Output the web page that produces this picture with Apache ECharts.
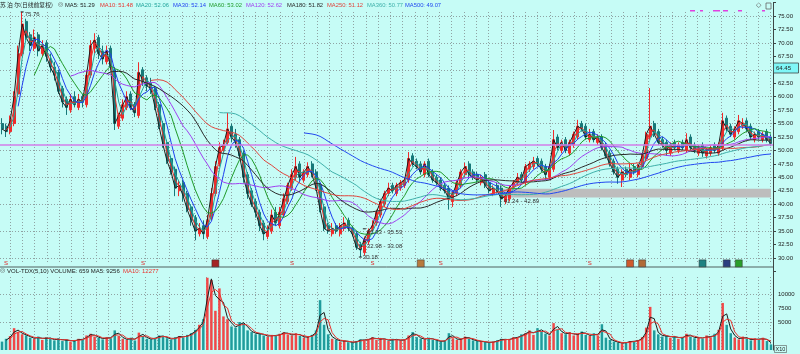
<!DOCTYPE html>
<html>
<head>
<meta charset="utf-8">
<script src="https://cdn.jsdelivr.net/npm/echarts@6/dist/echarts.min.js"></script>
<style>
html, body { margin: 0; padding: 0; background: #c6fcf6; }
#main { width: 800px; height: 354px; }
</style>
</head>
<body>
<div id="main"></div>
<script>
// 价格 (每根约合 6~7 个交易日)
var opens = [
  55, 54.5, 53.5, 55, 60.5, 68, 74, 71.5, 69, 71.5,
  68, 70, 67, 65.5, 64.5, 61.5, 59.5, 57.5, 60, 58,
  60, 58.5, 64, 69, 71, 68.5, 66.5, 69, 65, 54.5,
  56, 58, 60.5, 58.5, 56.5, 65, 63.5, 62.5, 61.5, 58.5,
  55, 51.5, 48.5, 46.5, 42.5, 44, 42, 39.5, 37.5, 34.5,
  36, 34, 37.5, 42, 47.5, 50, 51.5, 54.5, 53, 52,
  49.5, 45.5, 42.5, 40.5, 38.5, 36.5, 34, 35, 38.5, 36,
  38, 40.5, 43, 45, 47.5, 44.5, 45.5, 47.5, 46, 43.5,
  39.5, 36, 34.5, 36, 34.5, 35.5, 37, 35.5, 34.5, 32.5,
  31, 33, 35.5, 36.5, 38, 40, 42, 43.5, 42, 43,
  43.5, 44.5, 49, 48, 47.5, 45.5, 48, 46, 45, 44.5,
  43.5, 43, 40.5, 42, 43.5, 45.5, 47.5, 46, 45.5, 44,
  45.5, 44, 42, 43.5, 43, 40.5, 41, 43.5, 44, 45.5,
  44, 46.5, 47, 48.5, 48, 47, 45, 46.5, 52.5, 50,
  52, 49.5, 51, 52.5, 55, 54.5, 52, 53.5, 51.5, 52.5,
  51, 49.5, 48, 46.5, 44.5, 46.5, 45, 47, 45.5, 47,
  48.5, 52.5, 55, 53.5, 52, 51.5, 49.5, 51.5, 50, 51.5,
  50, 52.5, 51, 49.5, 51, 49, 49.5, 51, 49.5, 50.5,
  56, 54.5, 52.5, 53.5, 54.5, 55.5, 54.5, 52, 53.5, 52,
  53.5, 52.5
];
var closes = [
  54, 53.5, 55.5, 60, 68, 73.5, 71, 69.5, 71, 68.5,
  69.5, 67.5, 65.5, 64, 61, 59, 58, 59.5, 58.5, 59.5,
  59, 64, 69.5, 70.5, 68, 67, 68.5, 65.5, 55, 56.5,
  58.5, 60, 58, 57, 64.5, 63, 62, 61.5, 58, 54.5,
  51, 48, 46, 43, 43.5, 41.5, 39, 37, 35, 35.5,
  34.5, 37, 42, 47, 50.5, 51, 54, 52.5, 51.5, 49,
  45, 42, 40, 38.5, 36, 34.5, 35, 38, 36.5, 38.5,
  41, 43.5, 45.5, 47, 45, 46, 47, 45.5, 43, 39,
  35.5, 35, 35.5, 35, 36, 36.5, 35.5, 34.5, 32, 31.5,
  33.5, 35, 36, 38.5, 40.5, 42, 43, 42.5, 43.5, 44,
  44.5, 48.5, 47.5, 47, 46, 47.5, 45.5, 44.5, 44, 43,
  42.5, 41, 42, 44, 46, 47, 45.5, 45, 44.5, 45,
  43.5, 42.5, 43, 42.5, 41, 41.5, 43, 44, 45, 44.5,
  47, 47.5, 48, 47.5, 46.5, 45.5, 47, 52, 50.5, 51.5,
  50, 51.5, 53, 54.5, 54, 52.5, 53, 52, 52.5, 50.5,
  49, 47.5, 46, 45, 46, 45.5, 46.5, 46, 47, 49,
  53, 54.5, 53, 51.5, 51, 50, 51, 50.5, 51, 50.5,
  52, 50.5, 50, 50.5, 49.5, 50, 50.5, 50, 51, 55.5,
  54, 53, 54, 55.5, 55, 54, 52.5, 53, 52.5, 53,
  52, 51.3
];
var lows = [
  53, 52.5, 53, 54.5, 60, 67.5, 70.5, 68.5, 68.5, 67.5,
  67.5, 66.5, 64.5, 63, 60.5, 58, 56.6, 57, 58, 57.5,
  58, 58, 63.5, 68, 67, 66, 66, 65, 53.8, 54,
  55.5, 57.5, 57.5, 56.2, 56, 62, 61, 60.5, 57.5, 54,
  50.5, 47.5, 45.5, 41.5, 41.5, 40.5, 38.5, 36, 33.3, 34,
  33.5, 33.5, 37, 41.5, 47, 49.5, 51, 51.5, 50.5, 48.5,
  44, 41, 39.5, 37.5, 35, 33.3, 33.5, 34.5, 36, 35.5,
  37.5, 40, 42.5, 44.5, 44, 44, 45, 45, 42.5, 38.5,
  35, 34.5, 34, 34.5, 34, 35, 35, 34, 31.5, 30.18,
  30.5, 32.5, 35, 36, 37.5, 39.5, 41.5, 42, 41.5, 42.5,
  43, 44, 47, 46.5, 45.5, 45, 45, 44, 43.5, 42.5,
  42, 39, 39.5, 41.5, 43, 45, 45, 44.5, 44, 43.5,
  43, 42, 41.5, 42, 39.5, 40, 40.5, 43, 43.5, 44,
  43.5, 46, 46.5, 47, 46, 44.5, 44.5, 46, 50, 49.5,
  49.5, 49, 50.5, 52, 53.5, 52, 51.5, 51.5, 51, 50,
  48.5, 47, 45.5, 43.8, 43.2, 45, 44.5, 45.5, 45, 46.5,
  48, 52, 52.5, 51, 50.5, 49, 49, 50, 49.5, 50,
  49.5, 50, 49.5, 49, 48.8, 48.5, 49, 49.5, 49, 50,
  53.5, 52.5, 52, 53, 54, 53.5, 52, 51.5, 52, 51.5,
  51.5, 50.8
];
var highs = [
  56, 55, 56.5, 61, 69.5, 75.76, 74.5, 72, 72.5, 72,
  70.5, 70.5, 68, 66.5, 65, 62, 60, 60.5, 61, 60.5,
  60.5, 65, 70.5, 71.8, 71.5, 69.5, 69.5, 69.5, 65.5, 57,
  59.5, 61, 61, 59, 66.4, 65.5, 64, 63.5, 62, 59,
  55.5, 52, 49, 47, 44.5, 44.5, 42.5, 40, 38, 36.5,
  37, 38, 43, 48, 51.5, 52, 57, 55, 54, 52.5,
  50, 46, 43, 41, 39, 37, 36, 39, 39.5, 39.5,
  42, 44, 46.5, 48.8, 48, 46.5, 47.8, 48, 46.5, 44,
  40, 36.5, 36.5, 36.5, 36.5, 37.6, 37.5, 36, 35, 33,
  34, 35.5, 37, 39, 41, 42.5, 44, 44, 44, 44.5,
  45, 49.7, 49.5, 48.5, 48, 48, 48.5, 46.5, 45.5, 45,
  44, 43.5, 42.5, 44.5, 46.5, 47.7, 48, 46.5, 46, 45.5,
  46, 44.5, 43.5, 44, 43.5, 42, 43.5, 44.5, 45.8, 46,
  47.5, 48, 48.8, 49, 48.5, 47.5, 47.5, 53.8, 53, 52,
  52.5, 52, 53.5, 55.7, 55.5, 55, 54, 54, 53, 53,
  51.5, 50, 48.5, 47, 46.5, 47, 47.5, 47.5, 47.5, 49.5,
  53.5, 61.6, 55.5, 54, 52.5, 52, 51.5, 52, 51.5, 52,
  53.2, 53, 51.5, 51, 51.5, 50.5, 51, 51.5, 51.5, 57,
  56.5, 55, 54.5, 56.6, 56, 56, 55, 53.5, 54, 53.5,
  54, 53
];
var volumes = [
  1500, 2000, 2500, 3900, 3200, 2800, 2600, 2200, 2000, 2400,
  1800, 2300, 2000, 1700, 2100, 1600, 1900, 1500, 1700, 2000,
  1800, 2600, 2900, 2400, 2200, 1900, 2300, 2100, 3500, 2500,
  2000, 1800, 2200, 1700, 3100, 2500, 2000, 1900, 2200, 2600,
  2400, 2100, 1800, 2300, 2500, 2200, 2700, 3000, 3600, 4500,
  5500, 12900, 12500, 7000, 11000, 6000, 5500, 4200, 4000, 5000,
  4800, 3500, 3200, 2800, 3000, 2600, 2400, 2700, 2500, 2900,
  3200, 2800, 2600, 3000, 2500, 2200, 2400, 2700, 3500, 8900,
  4500, 2800, 2000, 1800, 1500, 1700, 1400, 1300, 1600, 1900,
  1700, 2000, 2300, 1800, 2100, 1900, 1600, 2000, 1800, 1700,
  1900, 2600, 3200, 2300, 2000, 1900, 2200, 1800, 1600, 1500,
  1700, 3000, 2100, 1800, 2000, 2400, 2000, 1700, 1600, 1500,
  1400, 1300, 1500, 1700, 2000, 1800, 1900, 2300, 2200, 2800,
  3000, 3500, 2700, 3900, 3300, 2900, 2600, 4800, 3600, 3000,
  2800, 3200, 2600, 2900, 3300, 2700, 2500, 3000, 2600, 4600,
  2200, 1800, 1500, 1300, 1200, 1400, 1600, 1500, 1800, 2300,
  4000, 7700, 3500, 2800, 2400, 2600, 2200, 2500, 2000, 2300,
  2900, 2400, 2100, 2300, 2000, 2600, 2200, 2900, 3600, 8400,
  4500, 3000, 2200, 1900, 2400, 2000, 1700, 2100, 1800, 2200,
  1600, 1000
];

// 均线: 名称, 周期(按本图每根K线折算), 颜色, 标题栏数值
var maNames = ['MA5', 'MA10', 'MA20', 'MA30', 'MA60', 'MA120', 'MA180', 'MA250', 'MA360', 'MA500'];
var maBars = [1, 2, 3, 5, 9, 18, 27, 38, 55, 76];
var maColors = ['#1c1c1c', '#e8332e', '#22a39b', '#1f3ff0', '#1f9a2a', '#a040f0', '#2a2a2a', '#e0443c', '#3fb0aa', '#2248f0'];
var maLast = ['51.29', '51.48', '52.06', '52.14', '53.02', '52.62', '51.82', '51.12', '50.77', '49.07'];
var maTextX = [65, 100, 136, 173, 209, 246, 287, 327, 367, 405];

var volHeader = 'VOL-TDX(5,10) VOLUME: 659 MA5: 9256';
var volHeaderMa10 = 'MA10: 12277';

// 价格刻度 & 成交量刻度
var priceTicks = [30, 32.5, 35, 37.5, 40, 42.5, 45, 47.5, 50, 52.5, 55, 57.5, 60, 62.5, 67.5, 70, 72.5, 75];
var volTicks = [5000, 7500, 10000];

// 标注
var notes = [
  { at: [5, 75.76], text: '75.76', off: [0, 2] },
  { at: [90, 35.43], text: '35.33 - 35.53', off: [0, 4] },
  { at: [90, 33.03], text: '32.98 - 33.08', off: [0, 5] },
  { at: [89, 30.18], text: '30.18', off: [0, 0] },
  { at: [124, 41.24], text: '41.24 - 42.89', off: [0, 4] }
];
var bandLow = 41.24, bandHigh = 42.89, bandStart = 124;
var drawnLine = 51.0;

// 底部事件标记
var sMarks = [1, 35, 72, 92, 109, 146];
var boxMarks = [[53, '#a42424'], [104, '#b87a3c'], [156, '#cf5a2c'], [159, '#b06c38'], [174, '#1e8282'], [180, '#2c3f80'], [183, '#2a9e2a']];

function calcMA(arr, n) {
  var out = [];
  for (var i = 0; i < arr.length; i++) {
    if (i < n - 1) { out.push('-'); continue; }
    var s = 0;
    for (var j = 0; j < n; j++) s += arr[i - j];
    out.push(+(s / n).toFixed(3));
  }
  return out;
}

var days = closes.map(function (_, i) { return i; });
var kData = closes.map(function (c, i) { return [opens[i], c, lows[i], highs[i]]; });
var volData = volumes.map(function (v, i) {
  return { value: v, itemStyle: { color: closes[i] >= opens[i] ? '#f04848' : '#1f9c9c' } };
});

var chart = echarts.init(document.getElementById('main'));

var FONT = 'Liberation Sans';
var gridColor = '#8fa3a3';

var series = [{
  type: 'candlestick',
  xAxisIndex: 0, yAxisIndex: 0,
  data: kData,
  barWidth: '62%',
  itemStyle: { color: '#f02a2a', color0: '#177878', borderColor: '#f02a2a', borderColor0: '#177878', borderWidth: 1 },
  markLine: {
    silent: true, symbol: 'none', animation: false,
    label: { show: false },
    lineStyle: { color: '#d27ee8', width: 1.5, type: 'solid' },
    data: [{ yAxis: drawnLine }]
  },
  markArea: {
    silent: true,
    itemStyle: { color: '#bdbdbd' },
    data: [[{ xAxis: bandStart, yAxis: bandLow }, { xAxis: days.length - 1, yAxis: bandHigh }]]
  },
  markPoint: {
    silent: true, animation: false,
    data: notes.map(function (n) {
      return {
        coord: n.at, symbol: 'rect', symbolSize: [3, 1],
        itemStyle: { color: '#222' },
        label: { show: true, position: 'right', distance: 1, offset: n.off, formatter: n.text, fontSize: 6, color: '#333', fontFamily: FONT }
      };
    }).concat(sMarks.map(function (i) {
      return {
        coord: [i, 29.0], symbol: 'rect', symbolSize: [0, 0],
        label: { show: true, position: 'inside', formatter: 'S', fontSize: 6, color: '#e02020', fontFamily: FONT }
      };
    })).concat(boxMarks.map(function (b) {
      return {
        coord: [b[0], 29.0], symbol: 'rect', symbolSize: [7, 7],
        itemStyle: { color: b[1], borderColor: '#333', borderWidth: 0.5 },
        label: { show: false }
      };
    }))
  }
}];

maNames.forEach(function (name, k) {
  series.push({
    name: name, type: 'line', xAxisIndex: 0, yAxisIndex: 0,
    data: calcMA(closes, maBars[k]),
    showSymbol: false, silent: true,
    lineStyle: { width: 1, color: maColors[k] },
    z: 3
  });
});

series.push({
  type: 'bar', xAxisIndex: 1, yAxisIndex: 1,
  data: volData, barWidth: '62%'
});
series.push({
  type: 'line', xAxisIndex: 1, yAxisIndex: 1,
  data: calcMA(volumes, 2), showSymbol: false,
  lineStyle: { width: 1, color: '#1c1c1c' }
});
series.push({
  type: 'line', xAxisIndex: 1, yAxisIndex: 1,
  data: calcMA(volumes, 3), showSymbol: false,
  lineStyle: { width: 1, color: '#e8332e' }
});

var graphics = [
  { type: 'text', left: 0, top: 1.5, style: { text: '苏 泊 尔(日线前复权)', fontSize: 5.8, fill: '#222', fontFamily: 'Noto Sans CJK SC' } },
  { type: 'text', left: 58, top: 1.5, style: { text: '◎', fontSize: 6, fill: '#555', fontFamily: 'DejaVu Sans' } },
  { type: 'text', left: 0, top: 267.5, style: { text: '◎', fontSize: 6, fill: '#555', fontFamily: 'DejaVu Sans' } },
  { type: 'text', left: 7, top: 268, style: { text: volHeader, fontSize: 6, fill: '#222', fontFamily: FONT } },
  { type: 'text', left: 123, top: 268, style: { text: volHeaderMa10, fontSize: 6, fill: '#e8332e', fontFamily: FONT } },
  { type: 'line', shape: { x1: 0, y1: 267, x2: 773, y2: 267 }, style: { stroke: '#50605f', lineWidth: 1 } },
  { type: 'rect', z: 100, shape: { x: 773.5, y: 63, width: 25, height: 10 }, style: { fill: '#7ff7f7', stroke: '#404848', lineWidth: 0.8 } },
  { type: 'text', z: 101, left: 776, top: 65, style: { text: '64.45', fontSize: 6, fill: '#222', fontFamily: FONT } },
  { type: 'text', left: 756, top: 2, style: { text: '◇', fontSize: 7, fill: '#666', fontFamily: 'DejaVu Sans' } },
  { type: 'rect', shape: { x: 766, y: 3, width: 5, height: 6 }, style: { fill: 'none', stroke: '#666', lineWidth: 0.8 } },
  { type: 'rect', shape: { x: 774.5, y: 345.5, width: 12, height: 7 }, style: { fill: '#c6fcf6', stroke: '#555', lineWidth: 0.6 } },
  { type: 'text', left: 775.5, top: 346, style: { text: 'X10', fontSize: 5.5, fill: '#222', fontFamily: FONT } }
];
[[690, 5], [700, 3], [713, 7], [723, 5], [738, 4], [762, 3]].forEach(function (d) {
  graphics.push({ type: 'rect', shape: { x: d[0], y: 10, width: d[1], height: 1.5 }, style: { fill: '#e040e0' } });
});
maNames.forEach(function (name, k) {
  graphics.push({ type: 'text', left: maTextX[k], top: 2, style: { text: name + ': ' + maLast[k], fontSize: 5.8, fill: maColors[k], fontFamily: FONT } });
});

// 像素比例: 30 -> y258, 75 -> y16
var pxPerUnit = 242 / 45;
var priceTop = 16 - 2.5 * pxPerUnit;      // 77.5
var priceHeight = 50 * pxPerUnit;         // 27.5 ~ 77.5
var vLines = 763 / 12.27;

var dotted = { show: true, lineStyle: { color: gridColor, type: [1, 2], width: 1 } };

chart.setOption({
  animation: false,
  backgroundColor: '#c6fcf6',
  textStyle: { fontFamily: FONT },
  graphic: graphics,
  grid: [
    { left: 0, right: 27, top: priceTop, height: priceHeight },
    { left: 0, right: 27, top: 266, height: 84 },
    { left: 10, right: 27, top: 12, bottom: 92 },
    { left: 10, right: 27, top: 277, bottom: 2 },
    { left: 0, right: 27, top: 16, height: 242 }
  ],
  xAxis: [
    { type: 'category', gridIndex: 0, data: days, boundaryGap: true, axisLine: { show: false }, axisTick: { show: false }, axisLabel: { show: false }, splitLine: { show: false } },
    { type: 'category', gridIndex: 1, data: days, boundaryGap: true, axisLine: { show: false }, axisTick: { show: false }, axisLabel: { show: false }, splitLine: { show: false } },
    { type: 'value', gridIndex: 2, min: 0, max: vLines, interval: 1, axisLine: { show: false }, axisTick: { show: false }, axisLabel: { show: false }, splitLine: { show: true, lineStyle: { color: gridColor, type: [1, 2] }, showMaxLine: false } },
    { type: 'value', gridIndex: 3, min: 0, max: vLines, interval: 1, axisLine: { show: false }, axisTick: { show: false }, axisLabel: { show: false }, splitLine: { show: true, lineStyle: { color: gridColor, type: [1, 2] }, showMaxLine: false } },
    { type: 'value', gridIndex: 4, min: 0, max: 1, show: false }
  ],
  yAxis: [
    { type: 'value', gridIndex: 0, position: 'right', min: 27.5, max: 77.5, interval: 2.5,
      axisLine: { show: true, lineStyle: { color: '#3c4545', width: 1 } },
      axisTick: { show: true, length: 3, lineStyle: { color: '#3c4545' } },
      axisLabel: { show: true, margin: 5, fontSize: 6, color: '#222', fontFamily: FONT,
        formatter: function (v) { return priceTicks.indexOf(v) >= 0 ? v.toFixed(2) : ''; } },
      splitLine: { show: false } },
    { type: 'value', gridIndex: 1, position: 'right', min: 0, max: 15000, interval: 5000, axisLine: { show: true, lineStyle: { color: '#3c4545', width: 1 } }, axisTick: { show: false }, axisLabel: { show: false },
      splitLine: { show: true, lineStyle: { color: gridColor, type: [1, 2] }, showMinLine: false, showMaxLine: false } },
    { type: 'value', gridIndex: 1, position: 'right', min: 0, max: 15000, interval: 2500, axisLine: { show: false },
      axisTick: { show: false },
      axisLabel: { show: true, margin: 5, fontSize: 6, color: '#222', fontFamily: FONT,
        formatter: function (v) { return volTicks.indexOf(v) >= 0 ? String(v) : ''; } },
      splitLine: { show: false } },
    { type: 'value', gridIndex: 2, min: 0, max: 1, show: false },
    { type: 'value', gridIndex: 3, min: 0, max: 1, show: false },
    { type: 'value', gridIndex: 4, min: 30, max: 75, interval: 5, axisLine: { show: false }, axisTick: { show: false }, axisLabel: { show: false }, splitLine: dotted }
  ],
  series: series
});
</script>
</body>
</html>
